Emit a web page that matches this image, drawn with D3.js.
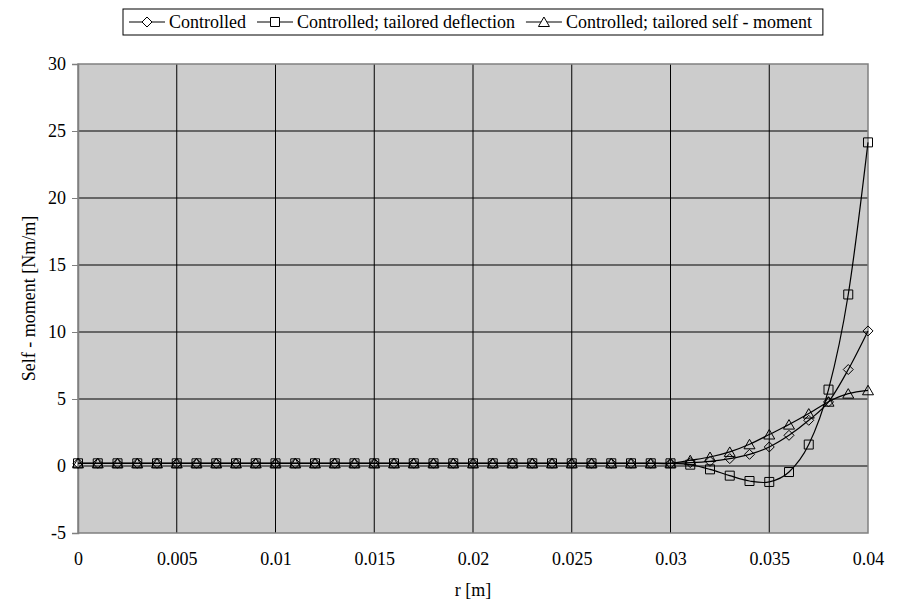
<!DOCTYPE html>
<html>
<head>
<meta charset="utf-8">
<script src="https://cdn.jsdelivr.net/npm/d3@7"></script>
<style>
  body { margin: 0; background: #fff; }
</style>
</head>
<body>
<svg width="902" height="602"></svg>
<script>
const [WIDTH, HEIGHT] = [902, 602];
const MARGIN = { top: 64, right: 34, bottom: 69, left: 78 };
const FONT_SIZE = 18;
const FONT = '"Liberation Serif", "Times New Roman", serif';

// r [m]
const rValues = [
  0, 0.001, 0.002, 0.003, 0.004, 0.005, 0.006, 0.007, 0.008, 0.009,
  0.01, 0.011, 0.012, 0.013, 0.014, 0.015, 0.016, 0.017, 0.018, 0.019,
  0.02, 0.021, 0.022, 0.023, 0.024, 0.025, 0.026, 0.027, 0.028, 0.029,
  0.03, 0.031, 0.032, 0.033, 0.034, 0.035, 0.036, 0.037, 0.038, 0.039, 0.04
];

const controlled = [
  0.2, 0.2, 0.2, 0.2, 0.2, 0.2, 0.2, 0.2, 0.2, 0.2,
  0.2, 0.2, 0.2, 0.2, 0.2, 0.2, 0.2, 0.2, 0.2, 0.2,
  0.2, 0.2, 0.2, 0.2, 0.2, 0.2, 0.2, 0.2, 0.2, 0.2,
  0.2, 0.25, 0.35, 0.55, 0.87, 1.42, 2.29, 3.41, 4.78, 7.2, 10.08
];

const tailoredDeflection = [
  0.2, 0.2, 0.2, 0.2, 0.2, 0.2, 0.2, 0.2, 0.2, 0.2,
  0.2, 0.2, 0.2, 0.2, 0.2, 0.2, 0.2, 0.2, 0.2, 0.2,
  0.2, 0.2, 0.2, 0.2, 0.2, 0.2, 0.2, 0.2, 0.2, 0.2,
  0.2, 0.1, -0.25, -0.72, -1.12, -1.19, -0.45, 1.6, 5.7, 12.8, 24.15
];

const tailoredMoment = [
  0.2, 0.2, 0.2, 0.2, 0.2, 0.2, 0.2, 0.2, 0.2, 0.2,
  0.2, 0.2, 0.2, 0.2, 0.2, 0.2, 0.2, 0.2, 0.2, 0.2,
  0.2, 0.2, 0.2, 0.2, 0.2, 0.2, 0.2, 0.2, 0.2, 0.2,
  0.2, 0.43, 0.67, 1.05, 1.62, 2.35, 3.09, 3.91, 4.8, 5.4, 5.65
];

const seriesNames = ["Controlled", "Controlled; tailored deflection", "Controlled; tailored self - moment"];
const seriesMarkers = ["diamond", "square", "triangle"];

const xTicks = [0, 0.005, 0.01, 0.015, 0.02, 0.025, 0.03, 0.035, 0.04];
const xTickLabels = ["0", "0.005", "0.01", "0.015", "0.02", "0.025", "0.03", "0.035", "0.04"];
const yTicks = [-5, 0, 5, 10, 15, 20, 25, 30];
const yTickLabels = ["-5", "0", "5", "10", "15", "20", "25", "30"];

const xLabel = "r [m]";
const yLabel = "Self - moment [Nm/m]";

const markerPath = (type) => {
  if (type === "diamond") return "M0,-5L5,0L0,5L-5,0Z";
  if (type === "square") return "M-4.5,-4.5H4.5V4.5H-4.5Z";
  return "M0,-5L5.5,4.5H-5.5Z";
};

const svg = d3.select("svg")
  .attr("viewBox", `0 0 ${WIDTH} ${HEIGHT}`);

const x = d3.scaleLinear()
  .domain([0, 0.04])
  .range([MARGIN.left, WIDTH - MARGIN.right]);

const y = d3.scaleLinear()
  .domain([-5, 30])
  .range([HEIGHT - MARGIN.bottom, MARGIN.top]);

// Plot area
svg.append("rect")
  .attr("x", x(0))
  .attr("y", y(30))
  .attr("width", x(0.04) - x(0))
  .attr("height", y(-5) - y(30))
  .attr("fill", "#cccccc");

// Gridlines
svg.append("g")
  .selectAll("line")
  .data(yTicks.filter((t) => t !== -5 && t !== 30))
  .enter()
  .append("line")
  .attr("x1", x(0))
  .attr("x2", x(0.04))
  .attr("y1", (t) => y(t))
  .attr("y2", (t) => y(t))
  .attr("stroke", "#000")
  .attr("stroke-width", 1);

svg.append("g")
  .selectAll("line")
  .data(xTicks.filter((t) => t !== 0 && t !== 0.04))
  .enter()
  .append("line")
  .attr("x1", (t) => x(t))
  .attr("x2", (t) => x(t))
  .attr("y1", y(30))
  .attr("y2", y(-5))
  .attr("stroke", "#000")
  .attr("stroke-width", 1);

// Plot border
svg.append("rect")
  .attr("x", x(0))
  .attr("y", y(30))
  .attr("width", x(0.04) - x(0))
  .attr("height", y(-5) - y(30))
  .attr("fill", "none")
  .attr("stroke", "#808080")
  .attr("stroke-width", 1.5);

// Y axis
const yAxis = svg.append("g")
  .attr("transform", `translate(${x(0)},0)`)
  .call(d3.axisLeft(y).tickValues(yTicks).tickFormat((d, i) => yTickLabels[i]).tickSize(6).tickPadding(6))
  .attr("font-family", null)
  .attr("font-size", null);
yAxis.select(".domain").attr("stroke", "#808080").attr("stroke-width", 1.5);
yAxis.selectAll(".tick line").attr("stroke", "#808080");
yAxis.selectAll("text")
  .style("font-family", FONT)
  .style("font-size", `${FONT_SIZE}px`)
  .attr("fill", "#000");

// X axis (labels only)
const xAxis = svg.append("g")
  .attr("transform", `translate(0,${y(-5)})`)
  .call(d3.axisBottom(x).tickValues(xTicks).tickFormat((d, i) => xTickLabels[i]).tickSize(0).tickPadding(19))
  .attr("font-family", null)
  .attr("font-size", null);
xAxis.select(".domain").remove();
xAxis.selectAll("text")
  .style("font-family", FONT)
  .style("font-size", `${FONT_SIZE}px`)
  .attr("fill", "#000");

// Axis titles
svg.append("text")
  .attr("x", (x(0) + x(0.04)) / 2)
  .attr("y", 596)
  .attr("text-anchor", "middle")
  .style("font-family", FONT)
  .style("font-size", `${FONT_SIZE}px`)
  .text(xLabel);

svg.append("text")
  .attr("transform", `translate(35,${(y(30) + y(-5)) / 2}) rotate(-90)`)
  .attr("text-anchor", "middle")
  .style("font-family", FONT)
  .style("font-size", `${FONT_SIZE}px`)
  .text(yLabel);

// Series
const allSeries = [controlled, tailoredDeflection, tailoredMoment];
const line = d3.line()
  .x((d, i) => x(rValues[i]))
  .y((d) => y(d))
  .curve(d3.curveCardinal.tension(0));

allSeries.forEach((values) => {
  svg.append("path")
    .datum(values)
    .attr("d", line)
    .attr("fill", "none")
    .attr("stroke", "#000")
    .attr("stroke-width", 1.2);
});

allSeries.forEach((values, s) => {
  svg.append("g")
    .selectAll("path")
    .data(values)
    .enter()
    .append("path")
    .attr("transform", (d, i) => `translate(${x(rValues[i])},${y(d)})`)
    .attr("d", markerPath(seriesMarkers[s]))
    .attr("fill", "none")
    .attr("stroke", "#000")
    .attr("stroke-width", 1);
});

// Legend
const legend = svg.append("g");
const legendBox = legend.append("rect")
  .attr("fill", "#fff")
  .attr("stroke", "#000")
  .attr("stroke-width", 1);

let cursor = 129;
const legendY = 22;
seriesNames.forEach((name, s) => {
  legend.append("line")
    .attr("x1", cursor)
    .attr("x2", cursor + 36)
    .attr("y1", legendY)
    .attr("y2", legendY)
    .attr("stroke", "#000")
    .attr("stroke-width", 1.2);
  legend.append("path")
    .attr("transform", `translate(${cursor + 18},${legendY})`)
    .attr("d", markerPath(seriesMarkers[s]))
    .attr("fill", "#fff")
    .attr("stroke", "#000");
  const label = legend.append("text")
    .attr("x", cursor + 40)
    .attr("y", legendY)
    .attr("dy", "0.35em")
    .style("font-family", FONT)
    .style("font-size", `${FONT_SIZE}px`)
    .text(name);
  cursor += 40 + label.node().getComputedTextLength() + 11;
});

legendBox
  .attr("x", 123)
  .attr("y", 9)
  .attr("width", cursor - 123)
  .attr("height", 26);
</script>
</body>
</html>
